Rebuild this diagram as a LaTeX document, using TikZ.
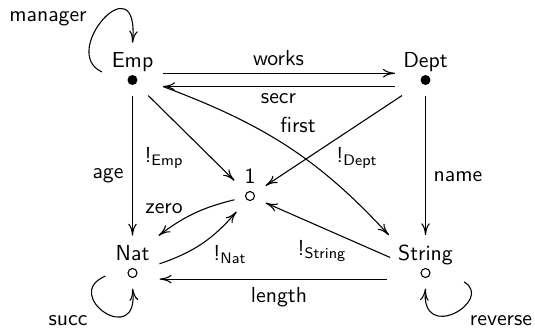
\documentclass[tikz,border=0pt]{standalone}
\usetikzlibrary{arrows.meta}
\begin{document}
\begin{tikzpicture}[x=0.46pt,y=-0.46pt, font=\sffamily, line width=0.5pt,
  >={To[length=5.5pt,width=4pt]},
  obj/.style={rectangle, inner sep=0pt, minimum height=30*0.46pt},
  lab/.style={anchor=base, inner sep=4pt},
  elab/.style={anchor=base, inner sep=0pt},
  fdot/.style={circle, fill, inner sep=0pt, minimum size=10*0.46pt},
  odot/.style={circle, draw, inner sep=0pt, minimum size=9*0.46pt},
]
\useasboundingbox (0,0) rectangle (535,327);
% objects
\node[obj, minimum width=60*0.46pt] (Emp) at (132.5,80) {};
\node[fdot] (Emp-dot) at (132.5,80) {};
\node[lab] (Emp-l) at (132.5,67) {Emp};
\node[obj, minimum width=60*0.46pt] (Dept) at (425.5,80) {};
\node[fdot] (Dept-dot) at (425.5,80) {};
\node[lab] (Dept-l) at (425.5,67) {Dept};
\node[obj, minimum width=30*0.46pt] (One) at (250,196) {};
\node[odot] (One-dot) at (250,196) {};
\node[lab] (One-l) at (250,183) {1};
\node[obj, minimum width=53*0.46pt] (Nat) at (132.5,273) {};
\node[odot] (Nat-dot) at (132.5,273) {};
\node[lab] (Nat-l) at (132.5,260) {Nat};
\node[obj, minimum width=76*0.46pt] (String) at (425.5,273) {};
\node[odot] (String-dot) at (425.5,273) {};
\node[lab] (String-l) at (425.5,260) {String};
% connectors
\draw[->] ([yshift=3.1pt]Emp.east) -- ([yshift=3.1pt]Dept.west);
\draw[->] ([yshift=-3pt]Dept.west) -- ([yshift=-3pt]Emp.east);
\draw[->] ([yshift=-3pt]Emp.east) .. controls (263,124) and (318,158) .. (String-l.north west);
\draw[->] (Emp) -- (Nat-l);
\draw[->] (Dept) -- (String-l);
\draw[->] (Emp) -- (One);
\draw[->] (Dept) -- (One);
\draw[->] (String) -- (One);
\draw[->] (One) .. controls (202,207.6) and (183.6,216.8) .. (Nat-l.north east);
\draw[->] (Nat) .. controls (194,252) and (213,239) .. (One);
\draw[->] ([yshift=-2.8pt]String.west) -- ([yshift=-2.8pt]Nat.east);
\draw[->] ([yshift=3.7pt]Emp.west) .. controls (58,52) and (140,-40) .. (Emp-l.north);
\draw[->] ([yshift=-1.4pt]Nat.west) .. controls (60,295) and (140,350) .. (Nat.south);
\draw[->] ([yshift=-4.1pt]String.east) .. controls (495,300) and (420,345) .. (String.south);
% labels
\node[elab] (l-manager) at (48,21) {manager};
\node[elab] (l-works) at (278.5,65) {works};
\node[elab] (l-secr) at (278.5,103) {secr};
\node[elab] (l-first) at (298,132) {first};
\node[elab] (l-bDept) at (357,162) {!\textsubscript{Dept}};
\node[elab] (l-bEmp) at (164,162) {!\textsubscript{Emp}};
\node[elab] (l-age) at (108,178) {age};
\node[elab] (l-name) at (458,181) {name};
\node[elab] (l-zero) at (164,213) {zero};
\node[elab] (l-bNat) at (230,260) {!\textsubscript{Nat}};
\node[elab] (l-length) at (279,302) {length};
\node[elab] (l-bString) at (322,255) {!\textsubscript{String}};
\node[elab] (l-succ) at (68,325) {succ};
\node[elab] (l-reverse) at (501,325) {reverse};
\end{tikzpicture}
\end{document}
